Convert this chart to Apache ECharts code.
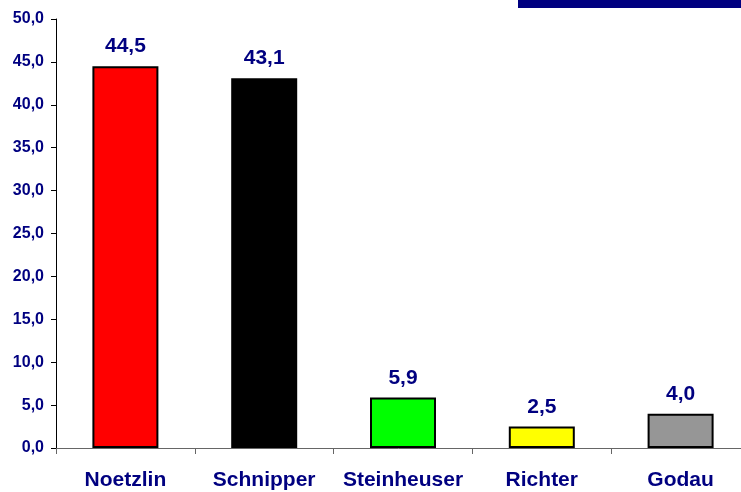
<!DOCTYPE html>
<html>
<head>
<meta charset="utf-8">
<script src="https://cdn.jsdelivr.net/npm/echarts@6/dist/echarts.min.js"></script>
<style>
  html, body { margin: 0; padding: 0; background: #fff; }
  #chart { width: 741px; height: 492px; }
</style>
</head>
<body>
<div id="chart"></div>
<script>
// Kandidaten und Stimmenanteile (%)
const categories = ["Noetzlin", "Schnipper", "Steinheuser", "Richter", "Godau"];
const values = [44.5, 43.1, 5.9, 2.5, 4.0];
const barColors = ["#ff0000", "#000000", "#00ff00", "#ffff00", "#969696"];

const navy = "#000080";
const fmt = (v) => Number(v).toFixed(1).replace(".", ",");

const myChart = echarts.init(document.getElementById("chart"));

const option = {
  animation: false,
  textStyle: { fontFamily: "Liberation Sans, Arial, sans-serif" },
  graphic: [
    {
      type: "rect",
      shape: { x: 518, y: 0, width: 223, height: 8 },
      style: { fill: navy }
    }
  ],
  // the plot runs a little past the right edge, like in the original
  grid: {
    left: 56,
    top: 19,
    bottom: 44,
    width: 694,
    containLabel: false,
    outerBoundsMode: "none"
  },
  xAxis: {
    type: "category",
    data: categories,
    axisLine: { lineStyle: { color: "#666", width: 1 } },
    axisTick: { show: true, length: 6, lineStyle: { color: "#666" } },
    axisLabel: {
      interval: 0,
      color: navy,
      fontWeight: "bold",
      fontSize: 21,
      margin: 22
    }
  },
  yAxis: {
    type: "value",
    min: 0,
    max: 50,
    interval: 5,
    axisLine: { show: true, lineStyle: { color: "#000", width: 1 } },
    axisTick: { show: true, length: 5, lineStyle: { color: "#000" } },
    splitLine: { show: false },
    axisLabel: {
      color: navy,
      fontWeight: "bold",
      fontSize: 16,
      margin: 12,
      formatter: fmt
    }
  },
  series: [
    {
      type: "bar",
      barWidth: 66,
      data: values.map((v, i) => ({
        value: v,
        itemStyle: { color: barColors[i] }
      })),
      itemStyle: { borderColor: "#000", borderWidth: 2 },
      label: {
        show: true,
        position: "top",
        distance: 9,
        color: navy,
        fontWeight: "bold",
        fontSize: 21,
        formatter: (p) => fmt(p.value)
      }
    }
  ]
};

myChart.setOption(option);
</script>
</body>
</html>
